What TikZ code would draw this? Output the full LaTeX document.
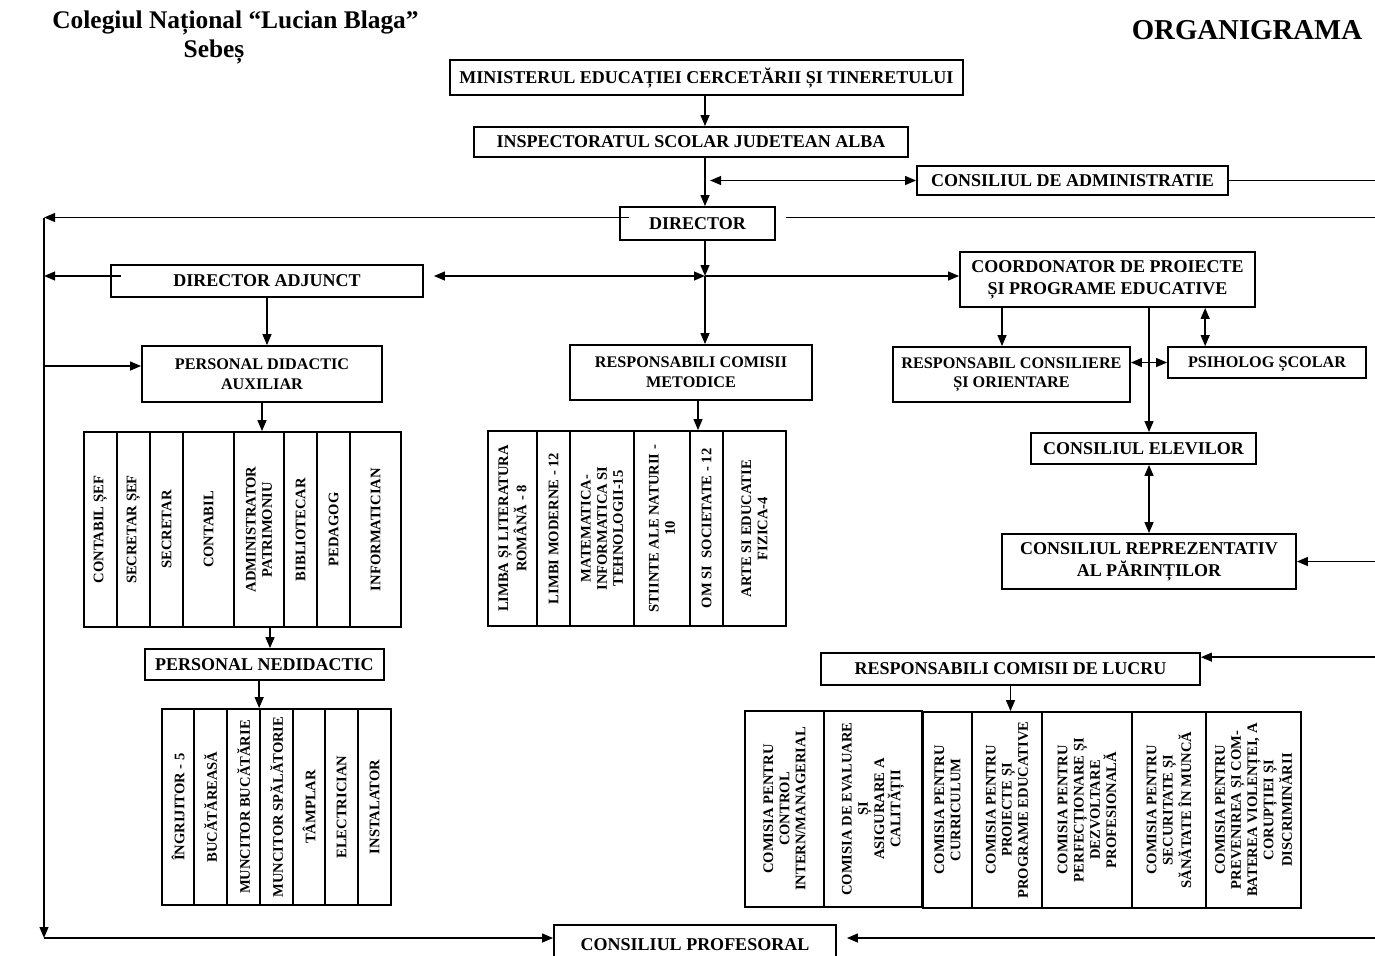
\documentclass[tikz,border=0pt]{standalone}
\usepackage{fontspec}
\setmainfont{Liberation Serif}
\usetikzlibrary{positioning, arrows.meta, calc}
\tikzset{
>={Triangle[length=5.5pt,width=4.4pt]}, % solid arrow heads
wh/.style 2 args={minimum width=#1*0.5pt, minimum height=#2*0.5pt}, % box size in pixels
box/.style={draw, align=center, inner sep=0pt, font=\bfseries\fontsize{9}{11}\selectfont},
smallbox/.style={box, font=\bfseries\fontsize{8.1}{9.8}\selectfont},
col/.style={draw, rotate=90, align=center, inner sep=0pt, font=\bfseries\fontsize{7.3}{8.1}\selectfont}, % vertical cells
title/.style={font=\bfseries\fontsize{12.7}{15}\selectfont},
}

\begin{document}
\begin{tikzpicture}[x=0.5pt, y=-0.5pt, line width=0.85pt]
    \useasboundingbox (0,0) rectangle (1375,955);
    % headings
    \node[title] (school) at (235.5,23) {Colegiul Național “Lucian Blaga”};
    \node[title] (town) at (214,52) {Sebeș};
    \node[font=\bfseries\fontsize{14.4}{16}\selectfont] (head) at (1247,30) {ORGANIGRAMA};

    % main boxes
    \node[box, wh={513}{35}] (min) at (706.5,77.5) {MINISTERUL EDUCAȚIEI CERCETĂRII ȘI TINERETULUI};
    \node[box, wh={434}{30}] (isj) at (691,142) {INSPECTORATUL SCOLAR JUDETEAN ALBA};
    \node[box, wh={311}{29}] (ca) at (1072.5,180.5) {CONSILIUL DE ADMINISTRATIE};
    \node[box, wh={155}{33}] (dir) at (697.5,223.5) {DIRECTOR};
    \node[box, wh={312}{32}] (adj) at (267,281) {DIRECTOR ADJUNCT};
    \node[box, wh={295}{55}] (coord) at (1107.5,279.5) {COORDONATOR DE PROIECTE\\ȘI PROGRAME EDUCATIVE};
    \node[smallbox, wh={240}{56}] (pda) at (262,374) {PERSONAL DIDACTIC\\AUXILIAR};
    \node[smallbox, wh={242}{55}] (rcm) at (691,372.5) {RESPONSABILI COMISII\\METODICE};
    \node[smallbox, wh={237}{55}] (rco) at (1011.5,374.5) {RESPONSABIL CONSILIERE\\ȘI ORIENTARE};
    \node[smallbox, wh={198}{31}, text depth=0pt] (psi) at (1267,362.5) {PSIHOLOG ȘCOLAR};
    \node[box, wh={225}{31}] (ce) at (1143.5,448.5) {CONSILIUL ELEVILOR};
    \node[box, wh={294}{55}] (crp) at (1149,561.5) {CONSILIUL REPREZENTATIV\\AL PĂRINȚILOR};
    \node[box, wh={239}{31}] (pn) at (264.5,664.5) {PERSONAL NEDIDACTIC};
    \node[box, wh={379}{32}] (rcl) at (1010.5,669) {RESPONSABILI COMISII DE LUCRU};
    \node[box, wh={282}{40}] (cp) at (695,945) {CONSILIUL PROFESORAL};

    % personal didactic auxiliar
    \node[col, wh={195}{33}] (aux1) at (100.5,529.5) {CONTABIL ȘEF};
    \node[col, wh={195}{33}] (aux2) at (133.5,529.5) {SECRETAR ȘEF};
    \node[col, wh={195}{33}] (aux3) at (166.5,529.5) {SECRETAR};
    \node[col, wh={195}{51}] (aux4) at (208.5,529.5) {CONTABIL};
    \node[col, wh={195}{50}] (aux5) at (259,529.5) {ADMINISTRATOR\\PATRIMONIU};
    \node[col, wh={195}{33}] (aux6) at (300.5,529.5) {BIBLIOTECAR};
    \node[col, wh={195}{33}] (aux7) at (333.5,529.5) {PEDAGOG};
    \node[col, wh={195}{51}] (aux8) at (375.5,529.5) {INFORMATICIAN};

    % personal nedidactic
    \node[col, wh={196}{32}] (ned1) at (178,807) {ÎNGRIJITOR - 5};
    \node[col, wh={196}{33}] (ned2) at (210.5,807) {BUCĂTĂREASĂ};
    \node[col, wh={196}{33}] (ned3) at (243.5,807) {MUNCITOR BUCĂTĂRIE};
    \node[col, wh={196}{33}] (ned4) at (276.5,807) {MUNCITOR SPĂLĂTORIE};
    \node[col, wh={196}{32}] (ned5) at (309,807) {TÂMPLAR};
    \node[col, wh={196}{33}] (ned6) at (341.5,807) {ELECTRICIAN};
    \node[col, wh={196}{33}] (ned7) at (374.5,807) {INSTALATOR};

    % comisii metodice
    \node[col, wh={195}{49}] (met1) at (512.5,528.5) {LIMBA ȘI LITERATURA\\ROMÂNĂ - 8};
    \node[col, wh={195}{33}] (met2) at (553.5,528.5) {LIMBI MODERNE - 12};
    \node[col, wh={195}{64}] (met3) at (602,528.5) {MATEMATICA-\\INFORMATICA SI\\TEHNOLOGII-15};
    \node[col, wh={195}{56}] (met4) at (662,528.5) {STIINTE ALE NATURII -\\10};
    \node[col, wh={195}{33}] (met5) at (706.5,528.5) {OM SI\ \ SOCIETATE - 12};
    \node[col, wh={195}{63}] (met6) at (754.5,528.5) {ARTE SI EDUCATIE\\FIZICA-4};

    % comisii de lucru
    \node[col, wh={196}{79}] (luc1) at (784.5,809) {COMISIA PENTRU\\CONTROL\\INTERN/MANAGERIAL};
    \node[col, wh={196}{98}] (luc2) at (873,809) {COMISIA DE EVALUARE\\ȘI\\ASIGURARE A\\CALITĂȚII};
    \node[col, wh={196}{49}] (luc3) at (947.5,810) {COMISIA PENTRU\\CURRICULUM};
    \node[col, wh={196}{70}] (luc4) at (1007,810) {COMISIA PENTRU\\PROIECTE ȘI\\PROGRAME EDUCATIVE};
    \node[col, wh={196}{90}] (luc5) at (1087,810) {COMISIA PENTRU\\PERFECȚIONARE ȘI\\DEZVOLTARE\\PROFESIONALĂ};
    \node[col, wh={196}{74}] (luc6) at (1169,810) {COMISIA PENTRU\\SECURITATE ȘI\\SĂNĂTATE ÎN MUNCĂ};
    \node[col, wh={196}{95}] (luc7) at (1253.5,810) {COMISIA PENTRU\\PREVENIREA ȘI COM-\\BATEREA VIOLENȚEI, A\\CORUPȚIEI ȘI\\DISCRIMINĂRII};

    % helper points
    \coordinate (le) at (44,0);
    \coordinate (re) at (1375,0);
    \coordinate (lb) at (44,938);
    \coordinate (hub) at (705,276);
    \coordinate (dl) at ($(dir.west)+(10,-6)$);
    \coordinate (dr) at ($(dir.east)+(10,-6)$);
    \coordinate (al) at ($(adj.west)+(11,-5)$);
    \coordinate (ar) at ($(adj.east)+(10,-5)$);
    \coordinate (pl) at ($(pda.west)+(0,-8)$);
    \coordinate (ap) at ($(aux5.west)+(11,0)$);
    \coordinate (mp) at ($(rcm.south)+(7,0)$);
    \coordinate (cl) at ($(rco.north)+(-9.5,0)$);
    \coordinate (cs) at ($(psi.north west)+(38,0)$);
    \coordinate (rq) at ($(rcl.north east)+(0,5)$);

    % connectors
    \draw[->] (min.south -| hub) -- (isj.north -| hub);
    \draw[->] (isj.south -| hub) -- (dir.north -| hub);
    \draw[<->] ($(ca.west -| hub)+(5,0)$) -- (ca.west);
    \draw (ca.east) -- (re |- ca.east);
    \draw[->] (dl) -- (le |- dl);
    \draw (dr) -- (re |- dr);
    \draw[->] (le |- dl) -- (lb);
    \draw[->] (lb) -- (cp.west |- lb);
    \draw[->] (re |- lb) -- ($(cp.east |- lb)+(10,0)$);
    \draw[->] (dir.south -| hub) -- (hub);
    \draw[<->] (ar) -- (hub);
    \draw[->] (hub) -- (coord.west |- hub);
    \draw[->] (hub) -- (rcm.north -| hub);
    \draw[->] (al) -- (le |- al);
    \draw[->] (le |- pl) -- (pl);
    \draw[->] (adj.south) -- (adj.south |- pda.north);
    \draw[->] (pda.south) -- (pda.south |- aux1.east);
    \draw[->] (ap) -- (ap |- pn.north);
    \draw[->] (pn.south -| ned4.north east) -- (ned4.north east);
    \draw[->] (mp) -- (mp |- met1.east);
    \draw[->] (coord.south -| cl) -- (cl);
    \draw[->] (coord.south -| crp.north) -- (ce.north -| crp.north);
    \draw[<->] (coord.south -| cs) -- (cs);
    \draw[<->] (psi.west -| rco.east) -- (psi.west);
    \draw[<->] (ce.south -| crp.north) -- (crp.north);
    \draw[->] (re |- crp.east) -- (crp.east);
    \draw[->] (re |- rq) -- (rq);
    \draw[->] (rcl.south) -- (rcl.south |- luc4.east);
\end{tikzpicture}
\end{document}
